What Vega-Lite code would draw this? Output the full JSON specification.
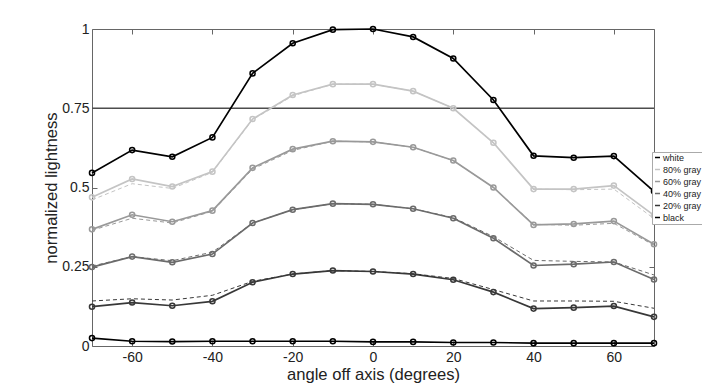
{
  "$schema": "https://vega.github.io/schema/vega-lite/v6.json",
  "width": 562,
  "height": 317,
  "autosize": {"type": "none"},
  "padding": {"left": 92, "top": 29, "right": 48, "bottom": 44},
  "background": "white",
  "config": {
    "font": "Liberation Sans",
    "view": {"stroke": "#666666", "strokeWidth": 1},
    "axis": {
      "grid": false,
      "domain": false,
      "tickColor": "#666666",
      "tickSize": -5,
      "labelFont": "Liberation Sans",
      "labelFontSize": 14,
      "labelColor": "#222222",
      "titleFont": "Liberation Sans",
      "titleFontSize": 16.6,
      "titleFontWeight": "normal",
      "titleColor": "#222222"
    },
    "legend": {
      "orient": "none",
      "legendX": 560,
      "legendY": 123,
      "fillColor": "white",
      "strokeColor": "#aaaaaa",
      "padding": 1,
      "labelFont": "Liberation Sans",
      "labelFontSize": 9,
      "labelColor": "#222222",
      "labelOffset": 1,
      "labelLimit": 60,
      "symbolType": "stroke",
      "symbolSize": 25,
      "symbolStrokeWidth": 1.5,
      "rowPadding": 2,
      "title": null
    }
  },
  "datasets": {
    "solid": [
      {"a": -70, "s": "white", "v": 0.546}, {"a": -60, "s": "white", "v": 0.618}, {"a": -50, "s": "white", "v": 0.597}, {"a": -40, "s": "white", "v": 0.658}, {"a": -30, "s": "white", "v": 0.860}, {"a": -20, "s": "white", "v": 0.955}, {"a": -10, "s": "white", "v": 0.998}, {"a": 0, "s": "white", "v": 1.0}, {"a": 10, "s": "white", "v": 0.975}, {"a": 20, "s": "white", "v": 0.907}, {"a": 30, "s": "white", "v": 0.776}, {"a": 40, "s": "white", "v": 0.600}, {"a": 50, "s": "white", "v": 0.594}, {"a": 60, "s": "white", "v": 0.599}, {"a": 70, "s": "white", "v": 0.488},
      {"a": -70, "s": "80% gray", "v": 0.469}, {"a": -60, "s": "80% gray", "v": 0.527}, {"a": -50, "s": "80% gray", "v": 0.503}, {"a": -40, "s": "80% gray", "v": 0.550}, {"a": -30, "s": "80% gray", "v": 0.716}, {"a": -20, "s": "80% gray", "v": 0.792}, {"a": -10, "s": "80% gray", "v": 0.826}, {"a": 0, "s": "80% gray", "v": 0.826}, {"a": 10, "s": "80% gray", "v": 0.804}, {"a": 20, "s": "80% gray", "v": 0.750}, {"a": 30, "s": "80% gray", "v": 0.641}, {"a": 40, "s": "80% gray", "v": 0.495}, {"a": 50, "s": "80% gray", "v": 0.495}, {"a": 60, "s": "80% gray", "v": 0.506}, {"a": 70, "s": "80% gray", "v": 0.412},
      {"a": -70, "s": "60% gray", "v": 0.368}, {"a": -60, "s": "60% gray", "v": 0.414}, {"a": -50, "s": "60% gray", "v": 0.392}, {"a": -40, "s": "60% gray", "v": 0.427}, {"a": -30, "s": "60% gray", "v": 0.562}, {"a": -20, "s": "60% gray", "v": 0.621}, {"a": -10, "s": "60% gray", "v": 0.646}, {"a": 0, "s": "60% gray", "v": 0.644}, {"a": 10, "s": "60% gray", "v": 0.627}, {"a": 20, "s": "60% gray", "v": 0.585}, {"a": 30, "s": "60% gray", "v": 0.500}, {"a": 40, "s": "60% gray", "v": 0.382}, {"a": 50, "s": "60% gray", "v": 0.385}, {"a": 60, "s": "60% gray", "v": 0.394}, {"a": 70, "s": "60% gray", "v": 0.321},
      {"a": -70, "s": "40% gray", "v": 0.249}, {"a": -60, "s": "40% gray", "v": 0.282}, {"a": -50, "s": "40% gray", "v": 0.264}, {"a": -40, "s": "40% gray", "v": 0.290}, {"a": -30, "s": "40% gray", "v": 0.388}, {"a": -20, "s": "40% gray", "v": 0.430}, {"a": -10, "s": "40% gray", "v": 0.449}, {"a": 0, "s": "40% gray", "v": 0.447}, {"a": 10, "s": "40% gray", "v": 0.433}, {"a": 20, "s": "40% gray", "v": 0.403}, {"a": 30, "s": "40% gray", "v": 0.340}, {"a": 40, "s": "40% gray", "v": 0.254}, {"a": 50, "s": "40% gray", "v": 0.258}, {"a": 60, "s": "40% gray", "v": 0.265}, {"a": 70, "s": "40% gray", "v": 0.210},
      {"a": -70, "s": "20% gray", "v": 0.124}, {"a": -60, "s": "20% gray", "v": 0.137}, {"a": -50, "s": "20% gray", "v": 0.127}, {"a": -40, "s": "20% gray", "v": 0.141}, {"a": -30, "s": "20% gray", "v": 0.201}, {"a": -20, "s": "20% gray", "v": 0.227}, {"a": -10, "s": "20% gray", "v": 0.238}, {"a": 0, "s": "20% gray", "v": 0.235}, {"a": 10, "s": "20% gray", "v": 0.227}, {"a": 20, "s": "20% gray", "v": 0.209}, {"a": 30, "s": "20% gray", "v": 0.170}, {"a": 40, "s": "20% gray", "v": 0.118}, {"a": 50, "s": "20% gray", "v": 0.121}, {"a": 60, "s": "20% gray", "v": 0.126}, {"a": 70, "s": "20% gray", "v": 0.092},
      {"a": -70, "s": "black", "v": 0.025}, {"a": -60, "s": "black", "v": 0.015}, {"a": -50, "s": "black", "v": 0.014}, {"a": -40, "s": "black", "v": 0.015}, {"a": -30, "s": "black", "v": 0.015}, {"a": -20, "s": "black", "v": 0.015}, {"a": -10, "s": "black", "v": 0.015}, {"a": 0, "s": "black", "v": 0.013}, {"a": 10, "s": "black", "v": 0.013}, {"a": 20, "s": "black", "v": 0.011}, {"a": 30, "s": "black", "v": 0.011}, {"a": 40, "s": "black", "v": 0.009}, {"a": 50, "s": "black", "v": 0.009}, {"a": 60, "s": "black", "v": 0.009}, {"a": 70, "s": "black", "v": 0.009}
    ],
    "dashed": [
      {"a": -70, "s": "80% gray", "v": 0.461}, {"a": -60, "s": "80% gray", "v": 0.512}, {"a": -50, "s": "80% gray", "v": 0.497}, {"a": -40, "s": "80% gray", "v": 0.548}, {"a": -30, "s": "80% gray", "v": 0.714}, {"a": -20, "s": "80% gray", "v": 0.789}, {"a": -10, "s": "80% gray", "v": 0.826}, {"a": 0, "s": "80% gray", "v": 0.826}, {"a": 10, "s": "80% gray", "v": 0.804}, {"a": 20, "s": "80% gray", "v": 0.750}, {"a": 30, "s": "80% gray", "v": 0.641}, {"a": 40, "s": "80% gray", "v": 0.495}, {"a": 50, "s": "80% gray", "v": 0.493}, {"a": 60, "s": "80% gray", "v": 0.495}, {"a": 70, "s": "80% gray", "v": 0.402},
      {"a": -70, "s": "60% gray", "v": 0.365}, {"a": -60, "s": "60% gray", "v": 0.403}, {"a": -50, "s": "60% gray", "v": 0.388}, {"a": -40, "s": "60% gray", "v": 0.425}, {"a": -30, "s": "60% gray", "v": 0.558}, {"a": -20, "s": "60% gray", "v": 0.617}, {"a": -10, "s": "60% gray", "v": 0.646}, {"a": 0, "s": "60% gray", "v": 0.644}, {"a": 10, "s": "60% gray", "v": 0.627}, {"a": 20, "s": "60% gray", "v": 0.585}, {"a": 30, "s": "60% gray", "v": 0.500}, {"a": 40, "s": "60% gray", "v": 0.384}, {"a": 50, "s": "60% gray", "v": 0.381}, {"a": 60, "s": "60% gray", "v": 0.387}, {"a": 70, "s": "60% gray", "v": 0.318},
      {"a": -70, "s": "40% gray", "v": 0.252}, {"a": -60, "s": "40% gray", "v": 0.282}, {"a": -50, "s": "40% gray", "v": 0.269}, {"a": -40, "s": "40% gray", "v": 0.296}, {"a": -30, "s": "40% gray", "v": 0.388}, {"a": -20, "s": "40% gray", "v": 0.430}, {"a": -10, "s": "40% gray", "v": 0.449}, {"a": 0, "s": "40% gray", "v": 0.447}, {"a": 10, "s": "40% gray", "v": 0.433}, {"a": 20, "s": "40% gray", "v": 0.405}, {"a": 30, "s": "40% gray", "v": 0.345}, {"a": 40, "s": "40% gray", "v": 0.270}, {"a": 50, "s": "40% gray", "v": 0.267}, {"a": 60, "s": "40% gray", "v": 0.265}, {"a": 70, "s": "40% gray", "v": 0.224},
      {"a": -70, "s": "20% gray", "v": 0.142}, {"a": -60, "s": "20% gray", "v": 0.149}, {"a": -50, "s": "20% gray", "v": 0.145}, {"a": -40, "s": "20% gray", "v": 0.160}, {"a": -30, "s": "20% gray", "v": 0.204}, {"a": -20, "s": "20% gray", "v": 0.227}, {"a": -10, "s": "20% gray", "v": 0.238}, {"a": 0, "s": "20% gray", "v": 0.235}, {"a": 10, "s": "20% gray", "v": 0.228}, {"a": 20, "s": "20% gray", "v": 0.213}, {"a": 30, "s": "20% gray", "v": 0.178}, {"a": 40, "s": "20% gray", "v": 0.142}, {"a": 50, "s": "20% gray", "v": 0.142}, {"a": 60, "s": "20% gray", "v": 0.141}, {"a": 70, "s": "20% gray", "v": 0.119}
    ],
    "ref": [{"y": 0.75}]
  },
  "layer": [
    {
      "data": {"name": "ref"},
      "mark": {"type": "rule", "color": "#4d4d4d", "strokeWidth": 1.3},
      "encoding": {
        "y": {"field": "y", "type": "quantitative", "scale": {"domain": [0, 1]}, "axis": null}
      }
    },
    {
      "data": {"name": "dashed"},
      "mark": {"type": "line", "strokeWidth": 1, "strokeDash": [4, 3]},
      "encoding": {
        "x": {"field": "a", "type": "quantitative", "scale": {"domain": [-70, 70], "nice": false}, "axis": {"orient": "bottom", "values": [-60, -40, -20, 0, 20, 40, 60], "labelExpr": "'' + datum.value", "title": "angle off axis (degrees)", "labelPadding": 9, "titlePadding": 2}},
        "y": {"field": "v", "type": "quantitative", "scale": {"domain": [0, 1], "nice": false}, "axis": {"orient": "left", "values": [0, 0.25, 0.5, 0.75, 1], "labelExpr": "'' + datum.value", "title": "normalized lightness", "labelPadding": 8, "titlePadding": 2}},
        "color": {"field": "s", "type": "nominal", "scale": {"domain": ["white", "80% gray", "60% gray", "40% gray", "20% gray", "black"], "range": ["#000000", "#c4c4c4", "#999999", "#6b6b6b", "#383838", "#000000"]}},
        "detail": {"field": "s"}
      }
    },
    {
      "data": {"name": "solid"},
      "mark": {"type": "line", "strokeWidth": 1.7, "point": {"filled": false, "size": 26, "strokeWidth": 1.5}},
      "encoding": {
        "x": {"field": "a", "type": "quantitative", "axis": null},
        "y": {"field": "v", "type": "quantitative", "axis": null},
        "color": {"field": "s", "type": "nominal"}
      }
    },
    {
      "data": {"name": "solid"},
      "mark": {"type": "point", "opacity": 0},
      "encoding": {
        "x": {"field": "a", "type": "quantitative", "axis": {"orient": "top", "values": [-60, -40, -20, 0, 20, 40, 60], "labels": false, "title": null}},
        "y": {"field": "v", "type": "quantitative", "axis": {"orient": "right", "values": [0, 0.25, 0.5, 0.75, 1], "labels": false, "title": null}}
      }
    }
  ],
  "resolve": {"axis": {"x": "independent", "y": "independent"}}
}
